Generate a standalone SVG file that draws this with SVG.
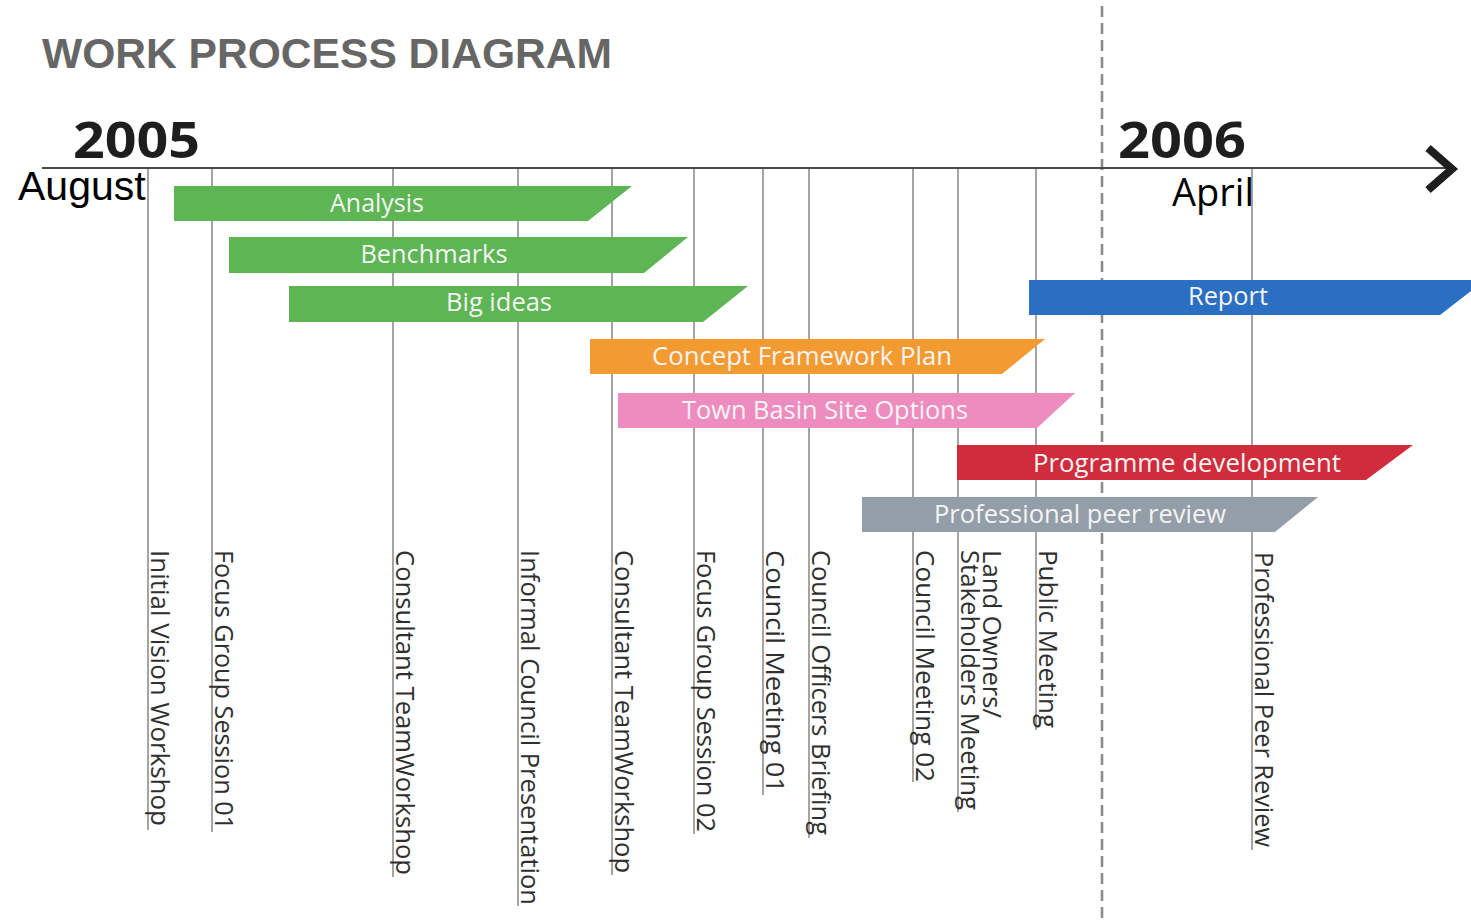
<svg xmlns="http://www.w3.org/2000/svg" width="1471" height="924" viewBox="0 0 1471 924">
  <style>
    .title { font-family: "Liberation Sans", Arial, sans-serif; font-weight: bold; font-size: 42px; fill: #666666; }
    .year { font-family: "Open Sans", "Noto Sans", sans-serif; font-weight: bold; font-size: 50px; fill: #1e1e1e; }
    .month { font-family: "Liberation Sans", Arial, sans-serif; font-size: 41px; fill: #000000; }
    .month2 { font-family: "Open Sans", "Noto Sans", sans-serif; font-size: 38px; fill: #000000; }
    .bar-label { font-family: "Open Sans", "Noto Sans", sans-serif; font-size: 25px; fill: #f4f4f4; text-anchor: middle; }
    .tick { stroke: #8e8e8e; stroke-width: 1.6; fill: none; }
    .tick-label { font-family: "Open Sans", "Noto Sans", sans-serif; font-size: 26px; fill: #2f2f2f; }
    .axis { stroke: #4a4a4a; stroke-width: 2.2; fill: none; }
    .divider { stroke: #8a8a8a; stroke-width: 2.6; stroke-dasharray: 11 6; fill: none; }
    .chevron { stroke: #1e1e1e; stroke-width: 8; fill: none; stroke-linejoin: miter; }
    .green { fill: #5db553; }
    .blue { fill: #2b6fc3; }
    .orange { fill: #f39a31; }
    .pink { fill: #ef8cbf; }
    .red { fill: #d02c3c; }
    .grey { fill: #949ea8; }
  </style>

  <text class="title" x="42" y="68" textLength="570" lengthAdjust="spacingAndGlyphs">WORK PROCESS DIAGRAM</text>

  <!-- year divider -->
  <line class="divider" x1="1102" y1="6" x2="1102" y2="924"/>

  <!-- milestones: tick line with rotated caption -->
  <g id="m-initial-vision">
    <line class="tick" x1="148" y1="168" x2="148" y2="830"/>
    <text class="tick-label" transform="translate(151,550) rotate(90)" textLength="276" lengthAdjust="spacingAndGlyphs">Initial Vision Workshop</text>
  </g>
  <g id="m-focus-group-01">
    <line class="tick" x1="212" y1="168" x2="212" y2="832"/>
    <text class="tick-label" transform="translate(215,550) rotate(90)" textLength="280" lengthAdjust="spacingAndGlyphs">Focus Group Session 01</text>
  </g>
  <g id="m-consultant-1">
    <line class="tick" x1="393" y1="168" x2="393" y2="877"/>
    <text class="tick-label" transform="translate(396,550) rotate(90)" textLength="325" lengthAdjust="spacingAndGlyphs">Consultant TeamWorkshop</text>
  </g>
  <g id="m-informal-council">
    <line class="tick" x1="518" y1="168" x2="518" y2="906"/>
    <text class="tick-label" transform="translate(521,550) rotate(90)" textLength="355" lengthAdjust="spacingAndGlyphs">Informal Council Presentation</text>
  </g>
  <g id="m-consultant-2">
    <line class="tick" x1="612" y1="168" x2="612" y2="875"/>
    <text class="tick-label" transform="translate(615,550) rotate(90)" textLength="323" lengthAdjust="spacingAndGlyphs">Consultant TeamWorkshop</text>
  </g>
  <g id="m-focus-group-02">
    <line class="tick" x1="694" y1="168" x2="694" y2="834"/>
    <text class="tick-label" transform="translate(697,550) rotate(90)" textLength="282" lengthAdjust="spacingAndGlyphs">Focus Group Session 02</text>
  </g>
  <g id="m-council-01">
    <line class="tick" x1="763" y1="168" x2="763" y2="795"/>
    <text class="tick-label" transform="translate(766,550) rotate(90)" textLength="243" lengthAdjust="spacingAndGlyphs">Council Meeting 01</text>
  </g>
  <g id="m-officers-briefing">
    <line class="tick" x1="809" y1="168" x2="809" y2="838"/>
    <text class="tick-label" transform="translate(812,550) rotate(90)" textLength="285" lengthAdjust="spacingAndGlyphs">Council Officers Briefing</text>
  </g>
  <g id="m-council-02">
    <line class="tick" x1="913" y1="168" x2="913" y2="782"/>
    <text class="tick-label" transform="translate(916,550) rotate(90)" textLength="232" lengthAdjust="spacingAndGlyphs">Council Meeting 02</text>
  </g>
  <g id="m-stakeholders">
    <line class="tick" x1="958" y1="168" x2="958" y2="812"/>
    <text class="tick-label" transform="translate(983,550) rotate(90)" textLength="168" lengthAdjust="spacingAndGlyphs">Land Owners/</text>
    <text class="tick-label" transform="translate(961,550) rotate(90)" textLength="260" lengthAdjust="spacingAndGlyphs">Stakeholders Meeting</text>
  </g>
  <g id="m-public-meeting">
    <line class="tick" x1="1036" y1="168" x2="1036" y2="730"/>
    <text class="tick-label" transform="translate(1039,550) rotate(90)" textLength="178" lengthAdjust="spacingAndGlyphs">Public Meeting</text>
  </g>
  <g id="m-peer-review">
    <line class="tick" x1="1252" y1="168" x2="1252" y2="850"/>
    <text class="tick-label" transform="translate(1255,552) rotate(90)" textLength="295" lengthAdjust="spacingAndGlyphs">Professional Peer Review</text>
  </g>

  <!-- timeline axis -->
  <g id="connectors">
    <line class="axis" x1="42" y1="168" x2="1452" y2="168"/>
    <polyline class="chevron" points="1428,148 1452,169 1428,190"/>
  </g>

  <text class="year" x="73" y="158" textLength="127" lengthAdjust="spacingAndGlyphs">2005</text>
  <text class="year" x="1118" y="158" textLength="128" lengthAdjust="spacingAndGlyphs">2006</text>
  <text class="month" x="18" y="200">August</text>
  <text class="month2" x="1172" y="206">April</text>

  <!-- work phases -->
  <g id="analysis">
    <polygon class="green" points="174,186 632,186 588,221 174,221"/>
    <text class="bar-label" x="377" y="212" textLength="94" lengthAdjust="spacingAndGlyphs">Analysis</text>
  </g>
  <g id="benchmarks">
    <polygon class="green" points="229,237 688,237 644,273 229,273"/>
    <text class="bar-label" x="434" y="263" textLength="147" lengthAdjust="spacingAndGlyphs">Benchmarks</text>
  </g>
  <g id="big-ideas">
    <polygon class="green" points="289,286 748,286 703,322 289,322"/>
    <text class="bar-label" x="499" y="311" textLength="106" lengthAdjust="spacingAndGlyphs">Big ideas</text>
  </g>
  <g id="report">
    <polygon class="blue" points="1029,280 1485,280 1440,315 1029,315"/>
    <text class="bar-label" x="1228" y="305" textLength="80" lengthAdjust="spacingAndGlyphs">Report</text>
  </g>
  <g id="concept-framework">
    <polygon class="orange" points="590,339 1045,339 1002,374 590,374"/>
    <text class="bar-label" x="802" y="365" textLength="300" lengthAdjust="spacingAndGlyphs">Concept Framework Plan</text>
  </g>
  <g id="town-basin">
    <polygon class="pink" points="618,393 1075,393 1037,428 618,428"/>
    <text class="bar-label" x="825" y="419" textLength="286" lengthAdjust="spacingAndGlyphs">Town Basin Site Options</text>
  </g>
  <g id="programme-development">
    <polygon class="red" points="957,445 1413,445 1366,480 957,480"/>
    <text class="bar-label" x="1187" y="472" textLength="308" lengthAdjust="spacingAndGlyphs">Programme development</text>
  </g>
  <g id="peer-review">
    <polygon class="grey" points="862,497 1318,497 1275,532 862,532"/>
    <text class="bar-label" x="1080" y="523" textLength="292" lengthAdjust="spacingAndGlyphs">Professional peer review</text>
  </g>
</svg>
